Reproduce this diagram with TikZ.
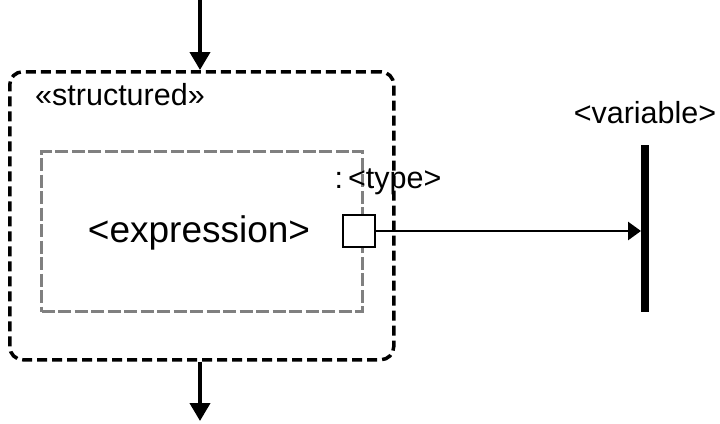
\documentclass[tikz,border=0pt]{standalone}
\usepackage{fontspec}
\setmainfont{Liberation Sans}
\usetikzlibrary{arrows.meta}
\begin{document}
\begin{tikzpicture}[x=1pt,y=-1pt,
  flow/.style={line width=4pt,-{Triangle[length=18pt,width=20pt]}},
  outerbox/.style={draw,line width=3.5pt,dash pattern=on 10pt off 5pt,rounded corners=13pt},
  innerbox/.style={draw=gray,line width=3pt,dash pattern=on 13pt off 3.5pt},
  pin/.style={draw,line width=1.6pt,fill=white,minimum size=32pt,inner sep=0pt},
  lbl/.style={font=\fontsize{30.5}{34}\selectfont,inner sep=0pt}]
\useasboundingbox (0,0) rectangle (720,423);
\node[outerbox,minimum width=384pt,minimum height=288pt,anchor=north west] (outer) at (8,70) {};
\node[innerbox,minimum width=321pt,minimum height=160pt,anchor=north west] (inner) at (40,150) {};
\node[lbl,anchor=base west] (st) at (35,105) {«structured»};
\node[font=\fontsize{37}{42}\selectfont,inner sep=0pt,anchor=base] (expr) at (199,242) {<expression>};
\node[pin] (p) at (359,231) {};
\node[lbl,anchor=base] (ty) at (388,188) {:\,<type>};
\node[lbl,anchor=base] (var) at (645,123) {<variable>};
\coordinate (vt) at (645,145);
\coordinate (vb) at (645,312);
\draw[line width=8.5pt] (vt) -- (vb);
\coordinate (vin) at (641,231);
\draw[line width=2.8pt,-{Triangle[length=13pt,width=18pt]}] (p.east) -- (vin);
\coordinate (top) at (200,0);
\draw[flow] (top) -- (outer.north -| top);
\coordinate (bot) at (200,421);
\draw[flow] (outer.south -| bot) -- (bot);
\end{tikzpicture}
\end{document}
